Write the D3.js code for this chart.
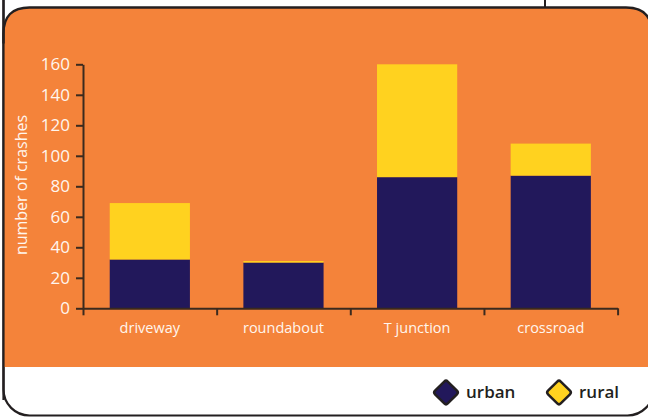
<!DOCTYPE html>
<meta charset="utf-8">
<script src="https://d3js.org/d3.v7.min.js"></script>
<style>
  body { margin: 0; background: #fff; }
  svg { display: block; font-family: "Open Sans", "Noto Sans", sans-serif; }
  .axis path, .axis line { stroke: #3b2a1e; stroke-width: 2; }
  .axis text { fill: #fff6ee; font-family: "Open Sans", "Noto Sans", sans-serif; }
</style>
<body>
<div id="chart"></div>
<script>
  // data
  var categories = ["driveway", "roundabout", "T junction", "crossroad"];
  var urban = [32, 30, 86, 87];
  var rural = [37, 1, 74, 21];
  var yTicks = [0, 20, 40, 60, 80, 100, 120, 140, 160];
  var seriesNames = ["urban", "rural"];
  var seriesColors = ["#22185b", "#ffd21f"];

  var W = 648, H = 417;

  var svg = d3.select("#chart").append("svg")
    .attr("width", W)
    .attr("height", H);

  // outer frame (white card with rounded bottom corners)
  svg.append("rect")
    .attr("x", 3.5).attr("y", -40)
    .attr("width", 650).attr("height", 455.5)
    .attr("rx", 26)
    .attr("fill", "#fff")
    .attr("stroke", "#231f20")
    .attr("stroke-width", 2.2);

  // small line at top
  svg.append("line")
    .attr("x1", 545).attr("x2", 545)
    .attr("y1", 0).attr("y2", 8)
    .attr("stroke", "#231f20").attr("stroke-width", 2);

  // orange panel, rounded top corners
  var px0 = 3.5, px1 = 652, py0 = 7.5, py1 = 367, r = 26;
  svg.append("path")
    .attr("d", "M" + px0 + "," + py1 +
      " L" + px0 + "," + (py0 + r) +
      " Q" + px0 + "," + py0 + " " + (px0 + r) + "," + py0 +
      " L" + (px1 - r) + "," + py0 +
      " Q" + px1 + "," + py0 + " " + px1 + "," + (py0 + r) +
      " L" + px1 + "," + py1 + " Z")
    .attr("fill", "#f4833a");
  svg.append("path")
    .attr("d", "M" + px0 + "," + (py0 + r + 10) +
      " L" + px0 + "," + (py0 + r) +
      " Q" + px0 + "," + py0 + " " + (px0 + r) + "," + py0 +
      " L" + (px1 - r) + "," + py0 +
      " Q" + px1 + "," + py0 + " " + px1 + "," + (py0 + r))
    .attr("fill", "none")
    .attr("stroke", "#231f20")
    .attr("stroke-width", 2.4);
  // keep the left frame line visible over the panel
  svg.append("line")
    .attr("x1", 3.5).attr("x2", 3.5)
    .attr("y1", 0).attr("y2", 400)
    .attr("stroke", "#231f20").attr("stroke-width", 2.2);

  // scales
  var x = d3.scaleBand()
    .domain(categories)
    .range([83, 617.6])
    .paddingInner(0.4)
    .paddingOuter(0.2);

  var xEdges = d3.scaleLinear()
    .domain([0, categories.length])
    .range([83, 617.6]);

  var y = d3.scaleLinear()
    .domain([0, 160])
    .range([308.3, 64.3]);

  var table = categories.map(function(c, i) {
    return { cat: c, urban: urban[i], rural: rural[i] };
  });
  var stacked = d3.stack().keys(seriesNames)(table);

  // bars
  svg.append("g").selectAll("g")
    .data(stacked)
    .enter().append("g")
      .attr("fill", function(d, i) { return seriesColors[i]; })
    .selectAll("rect")
    .data(function(d) { return d; })
    .enter().append("rect")
      .attr("x", function(d) { return x(d.data.cat); })
      .attr("y", function(d) { return y(d[1]); })
      .attr("width", x.bandwidth())
      .attr("height", function(d) { return y(d[0]) - y(d[1]); });

  // y axis
  var yAxis = svg.append("g")
    .attr("class", "axis")
    .attr("transform", "translate(83,0)")
    .call(d3.axisLeft(y).tickValues(yTicks).tickSize(7).tickSizeOuter(0).tickPadding(6));
  yAxis.attr("font-family", null).attr("font-size", 17);

  // x axis: ticks at the category boundaries
  svg.append("g")
    .attr("class", "axis")
    .attr("transform", "translate(0,308.3)")
    .call(d3.axisBottom(xEdges).tickValues(d3.range(categories.length + 1))
      .tickFormat("").tickSize(7).tickSizeOuter(0));

  // x labels at band centres
  var xLab = svg.append("g")
    .attr("class", "axis")
    .attr("transform", "translate(0,308.3)")
    .call(d3.axisBottom(x).tickSize(0).tickPadding(14));
  xLab.select(".domain").remove();
  xLab.attr("font-family", null).attr("font-size", 14.5);

  // y title
  svg.append("text")
    .attr("transform", "translate(27,185) rotate(-90)")
    .attr("text-anchor", "middle")
    .attr("fill", "#fff6ee")
    .style("font-size", "16px")
    .text("number of crashes");

  // legend
  var legendX = [446, 559];
  var legend = svg.append("g").selectAll("g")
    .data(seriesNames)
    .enter().append("g")
      .attr("transform", function(d, i) { return "translate(" + legendX[i] + ",392.5)"; });
  legend.append("rect")
    .attr("x", -9).attr("y", -9)
    .attr("width", 18).attr("height", 18)
    .attr("rx", 2.5)
    .attr("transform", "rotate(45)")
    .attr("fill", function(d, i) { return seriesColors[i]; })
    .attr("stroke", "#231f20")
    .attr("stroke-width", 2.5);
  legend.append("text")
    .attr("x", 20)
    .attr("dy", "0.35em")
    .attr("fill", "#231f20")
    .style("font-size", "17px")
    .style("font-weight", 600)
    .text(function(d) { return d; });
</script>
</body>
